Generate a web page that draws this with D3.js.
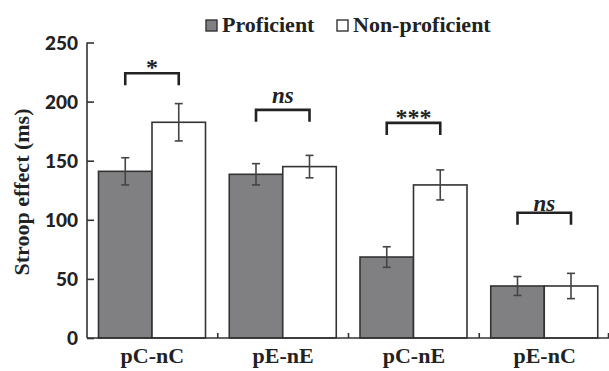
<!DOCTYPE html>
<html><head><meta charset="utf-8">
<script src="https://cdn.jsdelivr.net/npm/d3@7"></script>
<style>body{margin:0;background:#fff;}svg{display:block;}</style>
</head><body><svg id="c" width="609" height="371"></svg>
<script>
const categories = ["pC-nC", "pE-nE", "pC-nE", "pE-nC"];
const series = ["Proficient", "Non-proficient"];
const proficient = [141, 138.5, 68.5, 44];
const nonProficient = [182.5, 145, 129.5, 44];
const proficientErr = [11.5, 9, 8.7, 8];
const nonProficientErr = [15.8, 9.5, 12.7, 10.7];
const sigLabels = ["*", "ns", "***", "ns"];
const sigLevels = [224, 193, 182, 106];
const yTicks = [0, 50, 100, 150, 200, 250];

const svg = d3.select("#c");
const serif = "'Liberation Serif','Times New Roman',serif";
const x0 = d3.scaleBand().domain(categories).range([87, 610]).padding(0);
const x1 = d3.scaleBand().domain(series).range([11.5, 118.5]).padding(0);
const y = d3.scaleLinear().domain([0, 250]).range([338, 42.5]);
const fills = {"Proficient": "#808082", "Non-proficient": "#ffffff"};

const data = categories.map((c, i) => ({
  cat: c,
  vals: [
    {s: "Proficient", v: proficient[i], e: proficientErr[i]},
    {s: "Non-proficient", v: nonProficient[i], e: nonProficientErr[i]}
  ],
  sig: sigLabels[i], lvl: sigLevels[i]
}));

// bars
const g = svg.append("g");
const grp = g.selectAll("g.cat").data(data).join("g")
  .attr("transform", d => `translate(${x0(d.cat)},0)`);
grp.selectAll("rect").data(d => d.vals).join("rect")
  .attr("x", d => x1(d.s)).attr("width", x1.bandwidth())
  .attr("y", d => y(d.v)).attr("height", d => y(0) - y(d.v))
  .attr("fill", d => fills[d.s]).attr("stroke", "#333").attr("stroke-width", 1.6);
// error bars
const eb = grp.selectAll("g.eb").data(d => d.vals).join("g").attr("class", "eb")
  .attr("stroke", "#444").attr("stroke-width", 1.6);
eb.append("line").attr("x1", d => x1(d.s) + x1.bandwidth()/2).attr("x2", d => x1(d.s) + x1.bandwidth()/2)
  .attr("y1", d => y(d.v + d.e)).attr("y2", d => y(d.v - d.e));
eb.append("line").attr("x1", d => x1(d.s) + x1.bandwidth()/2 - 4).attr("x2", d => x1(d.s) + x1.bandwidth()/2 + 4)
  .attr("y1", d => y(d.v + d.e)).attr("y2", d => y(d.v + d.e));
eb.append("line").attr("x1", d => x1(d.s) + x1.bandwidth()/2 - 4).attr("x2", d => x1(d.s) + x1.bandwidth()/2 + 4)
  .attr("y1", d => y(d.v - d.e)).attr("y2", d => y(d.v - d.e));

// significance brackets
grp.append("path")
  .attr("d", d => {
    const a = x1("Proficient") + x1.bandwidth()/2, b = x1("Non-proficient") + x1.bandwidth()/2, yy = y(d.lvl);
    return `M${a},${yy + 12}V${yy}H${b}V${yy + 12}`;
  })
  .attr("fill", "none").attr("stroke", "#222").attr("stroke-width", 2.6);
grp.append("text")
  .attr("x", d => (x1("Proficient") + x1("Non-proficient") + x1.bandwidth())/2)
  .attr("y", d => d.sig === "ns" ? y(d.lvl) - (d.cat === "pE-nC" ? 1.5 : 6.5) : y(d.lvl) + 2)
  .attr("text-anchor", "middle")
  .attr("font-family", serif).attr("font-weight", "bold")
  .attr("font-style", d => d.sig === "ns" ? "italic" : "normal")
  .attr("font-size", d => d.sig === "ns" ? 23 : 24)
  .attr("fill", "#222")
  .text(d => d.sig);

// y axis
const ya = svg.append("g").attr("transform", "translate(87,0)")
  .call(d3.axisLeft(y).tickValues(yTicks).tickSize(-7).tickPadding(9));
ya.select(".domain").attr("stroke", "#333").attr("stroke-width", 1.6).attr("d", `M0,${y(250)}V${y(0)}`);
ya.selectAll(".tick line").attr("stroke", "#333").attr("stroke-width", 1.6);
ya.selectAll(".tick text").attr("font-family", "Lato, 'Open Sans', sans-serif").attr("font-weight", "900")
  .attr("font-size", 19).attr("fill", "#222").attr("dy", "0.36em");

// x axis
const xa = svg.append("g").attr("transform", `translate(0,${y(0)})`)
  .call(d3.axisBottom(x0).tickSize(0).tickPadding(0));
xa.select(".domain").attr("stroke", "#333").attr("stroke-width", 1.6).attr("d", `M87,0H609`);
xa.selectAll(".tick text").attr("font-family", serif).attr("font-weight", "bold")
  .attr("font-size", 22).attr("fill", "#222").attr("y", 25).attr("dy", "0");
svg.append("g").selectAll("line").data(categories.slice(1).concat(["end"])).join("line")
  .attr("x1", (d, i) => i < 3 ? x0(d) : x0.range()[1] - 1.5)
  .attr("x2", (d, i) => i < 3 ? x0(d) : x0.range()[1] - 1.5)
  .attr("y1", y(0)).attr("y2", y(0) - 5).attr("stroke", "#333").attr("stroke-width", 1.6);

// y axis title
svg.append("text").attr("transform", `translate(29,${192}) rotate(-90)`)
  .attr("text-anchor", "middle").attr("font-family", serif).attr("font-weight", "bold")
  .attr("font-size", 22).attr("fill", "#222").text("Stroop effect (ms)");

// legend
const legX = [206, 337];
const lg = svg.append("g").selectAll("g").data(series).join("g")
  .attr("transform", (d, i) => `translate(${legX[i]},20)`);
lg.append("rect").attr("width", 11).attr("height", 11).attr("fill", d => fills[d])
  .attr("stroke", "#333").attr("stroke-width", 1.4);
lg.append("text").attr("x", 16).attr("y", 12).attr("font-family", serif).attr("font-weight", "bold")
  .attr("font-size", 22).attr("fill", "#222").text(d => d);
</script></body></html>
